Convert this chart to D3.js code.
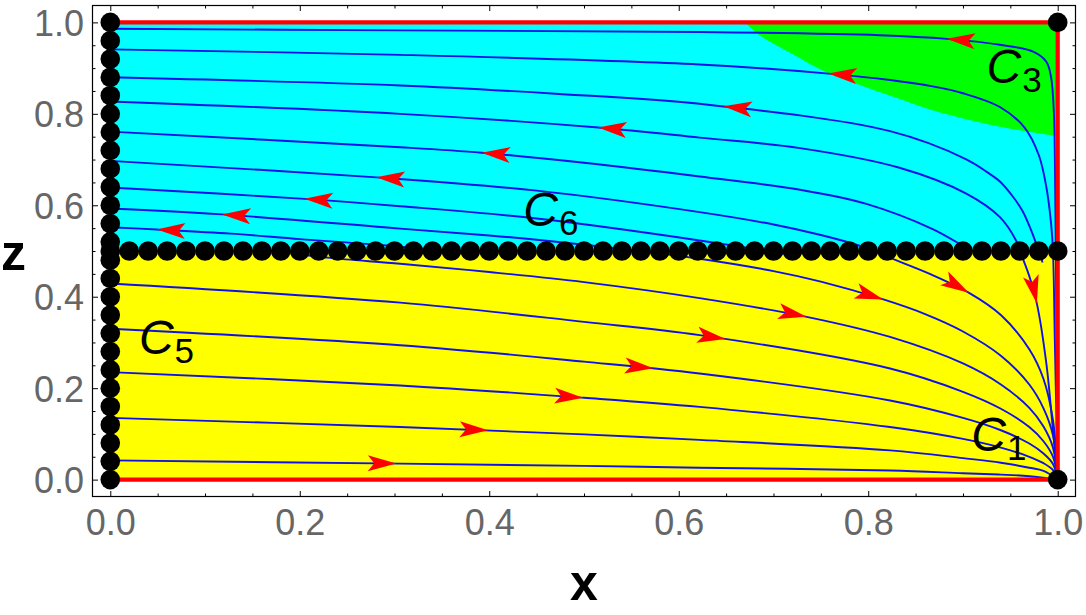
<!DOCTYPE html>
<html><head><meta charset="utf-8">
<script src="https://cdn.jsdelivr.net/npm/d3@7"></script>
<style>body{margin:0;background:#fff}svg{display:block}</style>
</head><body><svg id="c" width="1086" height="615"></svg>
<script>
// ---------- data ----------
const xTicks = [0, 0.2, 0.4, 0.6, 0.8, 1.0];
const xTickLabels = ["0.0", "0.2", "0.4", "0.6", "0.8", "1.0"];
const zTicks = [0, 0.2, 0.4, 0.6, 0.8, 1.0];
const zTickLabels = ["0.0", "0.2", "0.4", "0.6", "0.8", "1.0"];
const minorTicks = [0.05,0.1,0.15,0.25,0.3,0.35,0.45,0.5,0.55,0.65,0.7,0.75,0.85,0.9,0.95];

// streamlines (x, z)
const L1 = [[0,0.986],[0.306,0.9825],[0.622,0.979],[0.812,0.972],[0.883,0.964],[0.939,0.951],[0.974,0.936],[0.988,0.914],[0.993,0.88],[0.996,0.80],[0.997,0.70],[0.998,0.50],[0.999,0.25],[1,0]];
const L2 = [[0,0.941],[0.306,0.929],[0.622,0.908],[0.758,0.888],[0.823,0.874],[0.868,0.860],[0.90,0.845],[0.939,0.815],[0.965,0.770],[0.980,0.710],[0.988,0.640],[0.993,0.560],[0.995,0.50],[0.997,0.30],[1,0]];
const L3 = [[0,0.880],[0.306,0.862],[0.47,0.844],[0.622,0.822],[0.823,0.762],[0.904,0.700],[0.925,0.673],[0.939,0.652],[0.953,0.618],[0.963,0.587],[0.972,0.545],[0.980,0.50],[0.984,0.475]];
const L4 = [[0,0.827],[0.306,0.800],[0.515,0.770],[0.622,0.748],[0.728,0.725],[0.833,0.682],[0.904,0.625],[0.939,0.574],[0.956,0.523],[0.962,0.49],[0.970,0.445],[0.978,0.385],[0.988,0.254],[0.995,0.108],[1,0]];
const L5 = [[0,0.761],[0.306,0.727],[0.392,0.715],[0.5,0.693],[0.622,0.663],[0.728,0.634],[0.798,0.603],[0.868,0.548],[0.91,0.50],[0.918,0.494]];
const L6 = [[0,0.697],[0.281,0.661],[0.45,0.632],[0.622,0.585],[0.70,0.558],[0.75,0.535],[0.79,0.512],[0.823,0.485],[0.865,0.450],[0.906,0.409],[0.94,0.36],[0.97,0.285],[0.985,0.22],[0.995,0.13],[1,0]];
const L7 = [[0,0.639],[0.205,0.614],[0.306,0.598],[0.45,0.571],[0.622,0.523],[0.70,0.497],[0.71,0.493]];
const L8 = [[0,0.593],[0.118,0.580],[0.306,0.549],[0.40,0.534],[0.463,0.522],[0.55,0.502],[0.622,0.483],[0.70,0.456],[0.75,0.433],[0.816,0.394],[0.86,0.362],[0.90,0.324],[0.94,0.271],[0.97,0.208],[0.985,0.156],[0.995,0.097],[1,0]];
const L9 = [[0,0.552],[0.049,0.547],[0.127,0.538],[0.2,0.526],[0.292,0.512],[0.35,0.50],[0.37,0.495]];
const B6 = [[0.20,0.493],[0.232,0.485],[0.306,0.472],[0.4,0.454],[0.5,0.432],[0.622,0.397],[0.735,0.356],[0.823,0.312],[0.9,0.254],[0.94,0.208],[0.97,0.157],[0.985,0.116],[0.995,0.07],[1,0]];
const B5 = [[0,0.429],[0.306,0.387],[0.5,0.345],[0.622,0.316],[0.823,0.243],[0.9,0.192],[0.94,0.155],[0.97,0.115],[0.985,0.084],[0.995,0.05],[1,0]];
const B4 = [[0,0.330],[0.306,0.294],[0.5,0.258],[0.622,0.232],[0.823,0.173],[0.9,0.135],[0.94,0.108],[0.97,0.079],[0.985,0.057],[0.995,0.034],[1,0]];
const B3 = [[0,0.235],[0.306,0.206],[0.5,0.179],[0.622,0.159],[0.823,0.115],[0.9,0.089],[0.94,0.070],[0.97,0.050],[0.985,0.036],[0.995,0.021],[1,0]];
const B2 = [[0,0.135],[0.306,0.115],[0.5,0.099],[0.622,0.087],[0.823,0.064],[0.9,0.047],[0.94,0.037],[0.97,0.026],[0.985,0.019],[1,0]];
const B1 = [[0,0.042],[0.306,0.035],[0.5,0.030],[0.622,0.026],[0.823,0.020],[0.9,0.014],[0.94,0.011],[0.97,0.0075],[1,0]];
const streamlines = [L1, L2, L3, L4, L5, L6, L7, L8, L9, B6, B5, B4, B3, B2, B1];

// arrows: streamline index, tip x, tip z, direction along x (+1 / -1)
const arrowLine = [0, 1, 2, 3, 4, 5, 6, 7, 8, 7, 5, 3, 9, 10, 11, 12, 13, 14];
const arrowX = [0.883,0.758,0.647,0.515,0.392,0.281,0.205,0.118,0.049, 0.816,0.906,0.978,0.735,0.650,0.573,0.499,0.399,0.302];
const arrowZ = [0.964,0.888,0.815,0.770,0.715,0.661,0.614,0.578,0.549, 0.394,0.409,0.385,0.356,0.312,0.246,0.182,0.109,0.035];
const arrowDir = [-1,-1,-1,-1,-1,-1,-1,-1,-1, 1,1,1,1,1,1,1,1,1];

// green region boundary
const greenEdge = [[0.670,1.0],[0.686,0.971],[0.724,0.926],[0.756,0.891],[0.823,0.840],[0.868,0.808],[0.925,0.778],[0.960,0.764],[1.0,0.751]];

// red invariant edges
const borderLine = [[0,1],[1,1],[1,0],[0,0]];

// fixed points
const fixedColumnZ = [0,0.04,0.08,0.12,0.16,0.2,0.24,0.28,0.32,0.36,0.4,0.44,0.48,0.52,0.56,0.6,0.64,0.68,0.72,0.76,0.8,0.84,0.88,0.92,0.96,1];
const fixedRowX = [0,0.02,0.04,0.06,0.08,0.1,0.12,0.14,0.16,0.18,0.2,0.22,0.24,0.26,0.28,0.3,0.32,0.34,0.36,0.38,0.4,0.42,0.44,0.46,0.48,0.5,0.52,0.54,0.56,0.58,0.6,0.62,0.64,0.66,0.68,0.7,0.72,0.74,0.76,0.78,0.8,0.82,0.84,0.86,0.88,0.9,0.92,0.94,0.96,0.98,1];
const cornerPoints = [[1,1],[1,0]];

const labelSubs = ["1", "3", "5", "6"];

// ---------- drawing ----------
const FONT = "'Liberation Sans', Arial, sans-serif";
const svg = d3.select("#c");
const X0 = 92, X1 = 1076, Y0 = 5, Y1 = 497;
const x = d3.scaleLinear().domain([-0.0193, 1.0193]).range([X0, X1]);
const z = d3.scaleLinear().domain([-0.038, 1.038]).range([Y1, Y0]);

svg.append("rect").attr("width",1086).attr("height",615).attr("fill","#fff");

// regions
svg.append("rect").attr("x", x(0)).attr("y", z(0.5)).attr("width", x(1)-x(0)).attr("height", z(0)-z(0.5)).attr("fill", "#ffff00");
svg.append("rect").attr("x", x(0)).attr("y", z(1)).attr("width", x(1)-x(0)).attr("height", z(0.5)-z(1)).attr("fill", "#00ffff");
const curve = d3.line().x(d => x(d[0])).y(d => z(d[1])).curve(d3.curveCatmullRom.alpha(0.5));
svg.append("path").attr("d", curve(greenEdge) + `L${x(1)},${z(1)}Z`).attr("fill", "#00ff00");

// streamlines
const gs = svg.append("g");
const paths = streamlines.map(pts => gs.append("path").attr("d", curve(pts))
  .attr("fill","none").attr("stroke","#1010e8").attr("stroke-width",1.9));

// red edges
const lin = d3.line().x(d => x(d[0])).y(d => z(d[1]));
svg.append("path").attr("d", lin(borderLine)).attr("fill","none").attr("stroke","#ff0000")
  .attr("stroke-width",4.2).attr("stroke-linejoin","miter");

// arrows
arrowLine.forEach((li, i) => {
  const node = paths[li].node();
  const len = node.getTotalLength();
  const tx = x(arrowX[i]), ty = z(arrowZ[i]);
  let best = 0, bd = Infinity;
  for (let l = 0; l <= len; l += 0.5) {
    const p = node.getPointAtLength(l);
    const d = (p.x-tx)*(p.x-tx) + (p.y-ty)*(p.y-ty);
    if (d < bd) { bd = d; best = l; }
  }
  const p1 = node.getPointAtLength(Math.max(0, best-4));
  const p2 = node.getPointAtLength(Math.min(len, best+4));
  let ang = Math.atan2(p2.y-p1.y, p2.x-p1.x) * 180 / Math.PI;
  if (arrowDir[i] < 0) ang += 180;
  const p = node.getPointAtLength(best);
  svg.append("path").attr("d","M0,0L-28.5,-8L-22,0L-28.5,8Z")
    .attr("transform", `translate(${p.x},${p.y}) rotate(${ang})`).attr("fill","#ff0000");
});

// fixed points
const R = 9.8;
const gd = svg.append("g").attr("fill","#000");
fixedColumnZ.forEach(v => gd.append("circle").attr("cx", x(0)).attr("cy", z(v)).attr("r", R));
fixedRowX.forEach(v => gd.append("circle").attr("cx", x(v)).attr("cy", z(0.5)).attr("r", R));
cornerPoints.forEach(d => gd.append("circle").attr("cx", x(d[0])).attr("cy", z(d[1])).attr("r", R));

// frame + ticks
function styleAxis(g) {
  g.select(".domain").remove();
  g.selectAll(".tick line").attr("stroke","#000").attr("stroke-width",1);
  g.selectAll(".tick text").attr("fill","#666").style("font-family",FONT).style("font-size","36px");
}
svg.append("g").attr("transform",`translate(0,${Y1})`)
  .call(d3.axisBottom(x).tickValues(xTicks).tickFormat((d,i)=>xTickLabels[i]).tickSizeInner(-6).tickSizeOuter(0).tickPadding(12)).call(styleAxis);
svg.append("g").attr("transform",`translate(0,${Y0})`)
  .call(d3.axisTop(x).tickValues(xTicks).tickFormat("").tickSizeInner(-6).tickSizeOuter(0)).call(styleAxis);
svg.append("g").attr("transform",`translate(${X0},0)`)
  .call(d3.axisLeft(z).tickValues(zTicks).tickFormat((d,i)=>zTickLabels[i]).tickSizeInner(-6).tickSizeOuter(0).tickPadding(8)).call(styleAxis)
  .selectAll(".tick text").attr("dy","0.36em");
svg.append("g").attr("transform",`translate(${X1},0)`)
  .call(d3.axisRight(z).tickValues(zTicks).tickFormat("").tickSizeInner(-6).tickSizeOuter(0)).call(styleAxis);
// minor
svg.append("g").attr("transform",`translate(0,${Y1})`).call(d3.axisBottom(x).tickValues(minorTicks).tickFormat("").tickSizeInner(-3.5).tickSizeOuter(0)).call(styleAxis);
svg.append("g").attr("transform",`translate(0,${Y0})`).call(d3.axisTop(x).tickValues(minorTicks).tickFormat("").tickSizeInner(-3.5).tickSizeOuter(0)).call(styleAxis);
svg.append("g").attr("transform",`translate(${X0},0)`).call(d3.axisLeft(z).tickValues(minorTicks).tickFormat("").tickSizeInner(-3.5).tickSizeOuter(0)).call(styleAxis);
svg.append("g").attr("transform",`translate(${X1},0)`).call(d3.axisRight(z).tickValues(minorTicks).tickFormat("").tickSizeInner(-3.5).tickSizeOuter(0)).call(styleAxis);

svg.append("rect").attr("x",X0+0.5).attr("y",Y0+0.5).attr("width",X1-X0-1).attr("height",Y1-Y0-1)
  .attr("fill","none").attr("stroke","#000").attr("stroke-width",1.2);

// axis titles
svg.append("text").attr("x", (X0+X1)/2).attr("y", 600).attr("text-anchor","middle")
  .style("font-family",FONT).style("font-size","50px").style("font-weight","bold").text("x");
svg.append("text").attr("x", 1).attr("y", 270).attr("text-anchor","start")
  .style("font-family",FONT).style("font-size","50px").style("font-weight","bold").text("z");

// region labels C_i
const labelPos = { "1": [0.912, 0.062], "3": [0.928, 0.868], "5": [0.0334, 0.2755], "6": [0.439, 0.554] };
labelSubs.forEach(s => {
  const [lx, lz] = labelPos[s];
  const t = svg.append("text").attr("x", x(lx) - 3).attr("y", z(lz))
    .style("font-family", FONT).attr("fill","#000");
  t.append("tspan").style("font-style","italic").style("font-size","48px").text("C");
  t.append("tspan").attr("dy", 9).attr("dx", 1).style("font-size","35px").text(s);
});
</script></body></html>
